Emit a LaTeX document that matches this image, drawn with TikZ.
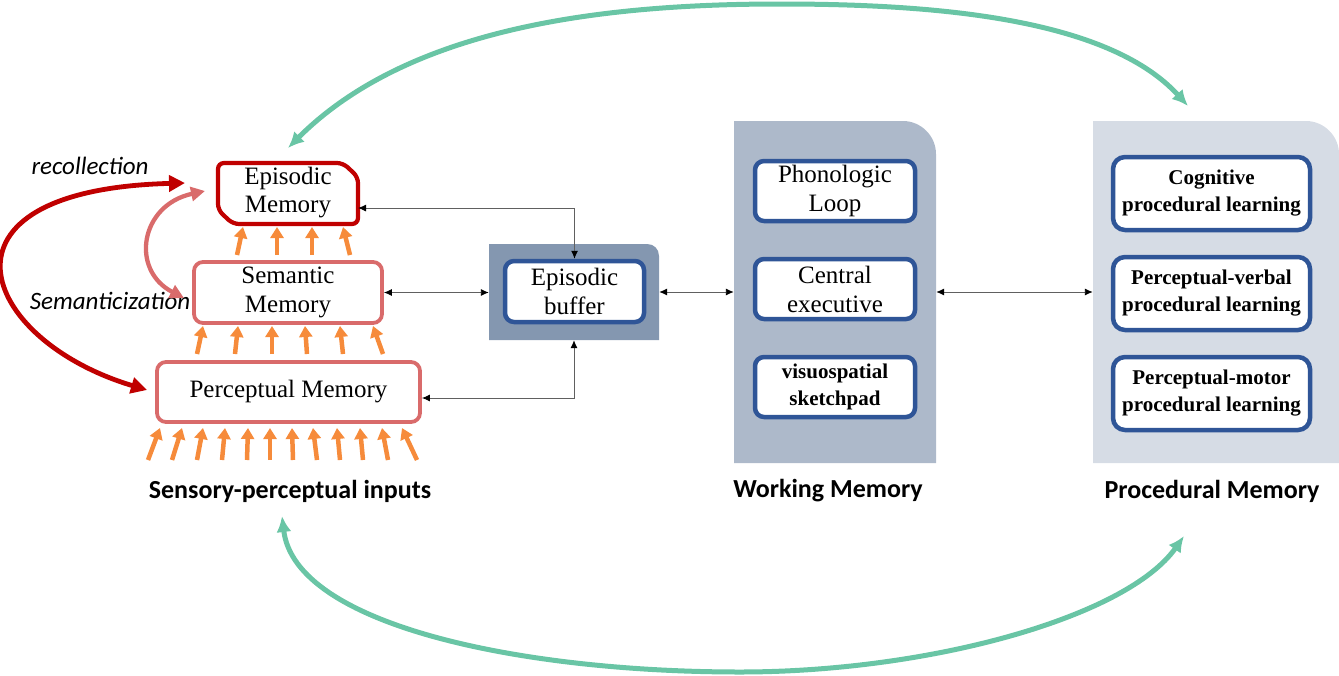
\documentclass[tikz,border=0pt]{standalone}
\usepackage{fontspec}
\setmainfont{Liberation Serif}
\newfontfamily\lblfont{Carlito}
\usetikzlibrary{arrows.meta,calc}
\definecolor{dred}{HTML}{C00000}
\definecolor{lred}{HTML}{D96B6B}
\definecolor{orng}{HTML}{F68B3B}
\definecolor{bblue}{HTML}{2F5597}
\definecolor{bufcol}{HTML}{8497B0}
\definecolor{wmcol}{HTML}{ADB9CA}
\definecolor{pmcol}{HTML}{D6DCE5}
\definecolor{grn}{HTML}{69C5A5}
\definecolor{conngray}{HTML}{606060}
\begin{document}
\begin{tikzpicture}[x=1pt,y=-1pt,
  box/.style={rectangle, rounded corners=9pt, line width=3.8pt, fill=white, inner sep=0pt, align=center, font=\fontsize{25}{29}\selectfont},
  redbox/.style={box, draw=lred},
  bluebox/.style={box, draw=bblue, line width=4.5pt},
  procbox/.style={bluebox, rounded corners=12pt, font=\bfseries\fontsize{21}{27}\selectfont},
  ghost/.style={rectangle, inner sep=0pt},
  conn/.style={draw=conngray, line width=0.9pt, {Latex[length=8pt,width=7pt,color=black]}-{Latex[length=8pt,width=7pt,color=black]}},
  uparr/.style={draw=orng, line width=4.5pt, -{Triangle[length=11pt,width=13pt,fill=orng]}},
  greenarr/.style={draw=grn, line width=5pt, {Latex[length=16pt,width=15pt]}-{Latex[length=16pt,width=15pt]}},
  redarr/.style={draw=dred, line width=4.8pt, {Triangle[length=16pt,width=16pt]}-{Triangle[length=16pt,width=16pt]}},
  lredarr/.style={draw=lred, line width=4.3pt, {Triangle[length=14pt,width=14pt]}-{Triangle[length=14pt,width=14pt]}},
  lbl/.style={font=\lblfont\bfseries\fontsize{26}{30}\selectfont},
  hand/.style={font=\lblfont\itshape\fontsize{25}{28}\selectfont}
]
\useasboundingbox (0,0) rectangle (1339,675);

% backgrounds
\fill[bufcol] (489,340) -- (489,244) -- (647,244) .. controls (654,244) and (659,249) .. (659,256) -- (659,340) -- cycle;
\fill[wmcol] (734,463) -- (734,121) -- (903,121) .. controls (921,121) and (936,136) .. (936,154) -- (936,463) -- cycle;
\fill[pmcol] (1093,463) -- (1093,121) -- (1306,121) .. controls (1324,121) and (1339,136) .. (1339,154) -- (1339,463) -- cycle;
\node[ghost, minimum width=170, minimum height=96] (bufbg) at (574,292) {};
\node[ghost, minimum width=202, minimum height=342] (wmbg) at (835,292) {};
\node[ghost, minimum width=246, minimum height=342] (pmbg) at (1216,292) {};

% episodic memory (chamfered)
\draw[dred, line width=4.2pt, fill=white, rounded corners=6pt] (218,163) -- (343,163) -- (358,177) -- (358,224) -- (233,224) -- (218,210) -- cycle;
\node[ghost, minimum width=140, minimum height=61, align=center, font=\fontsize{25}{28}\selectfont] (epi) at (288,193) {Episodic\\Memory};

\node[redbox, minimum width=188, minimum height=61] (sem) at (288,292.5) {Semantic\\Memory};
\node[redbox, minimum width=263, minimum height=60] (per) at (288.5,392) {Perceptual Memory};

\node[bluebox, minimum width=139, minimum height=61] (buf) at (574.5,291.5) {Episodic\\buffer};

\node[bluebox, minimum width=160, minimum height=60] (pl) at (835,191) {Phonologic\\Loop};
\node[bluebox, minimum width=160, minimum height=60] (ce) at (835,289) {Central\\executive};
\node[bluebox, minimum width=160, minimum height=60, font=\bfseries\fontsize{21}{27}\selectfont] (vs) at (835,387) {visuospatial\\sketchpad};

\node[procbox, minimum width=197, minimum height=73] (cog) at (1211.5,193.5) {Cognitive\\procedural learning};
\node[procbox, minimum width=197, minimum height=73] (pv) at (1211.5,293.5) {Perceptual-verbal\\procedural learning};
\node[procbox, minimum width=197, minimum height=73] (pmo) at (1211.5,393.5) {Perceptual-motor\\procedural learning};

% labels
\node[lbl] (l1) at (290,491) {Sensory-perceptual inputs};
\node[lbl] (l2) at (828,491) {Working Memory};
\node[lbl] (l3) at (1212,491) {Procedural Memory};
\node[hand] (rec) at (90,166) {recollection};
\node[hand] (semz) at (110,301) {Semanticization};

% connectors
\coordinate (epiR) at (358,208);
\draw[conn] (epiR) -| (buf.north);
\draw[conn] (sem.east) -- (sem.east -| bufbg.west);
\draw[conn] ([yshift=-6pt]per.east) -| (bufbg.south);
\draw[conn] (bufbg.east) -- (wmbg.west);
\draw[conn] (wmbg.east) -- (pmbg.west);

% orange arrows
\foreach \a/\b in {237/243, 277/277, 312/312, 350/343}
  \draw[uparr] (\a,255) -- (\b,227);
\foreach \a/\b in {197/203, 235/238, 272/272, 307/305, 343/340, 383/373}
  \draw[uparr] (\a,354) -- (\b,326);
\foreach \a/\b in {148/160, 172/182, 197/203, 222/225, 247/248, 270/270, 293/292, 317/313, 340/337, 363/360, 388/382, 417/402}
  \draw[uparr] (\a,460) -- (\b,428);

% recollection / semanticization
\coordinate (recA) at (185,183);
\coordinate (recB) at (147,390);
\draw[redarr] (recA) .. controls (-80,190) and (-20,340) .. (recB);
\coordinate (semA) at (205,191);
\coordinate (semB) at (184,298);
\draw[lredarr] (semA) .. controls (140,205) and (130,270) .. (semB);

% green arcs
\coordinate (gTL) at (288,148);
\coordinate (gTR) at (1188,106);
\coordinate (gBL) at (282,516);
\coordinate (gBR) at (1184,536);
\draw[greenarr] (gTL) .. controls (408,28) and (600,4) .. (780,4) .. controls (930,4) and (1107,17) .. (gTR);
\draw[greenarr] (gBL) .. controls (295,625) and (520,672) .. (740,672) .. controls (930,672) and (1127,617) .. (gBR);
\end{tikzpicture}
\end{document}
